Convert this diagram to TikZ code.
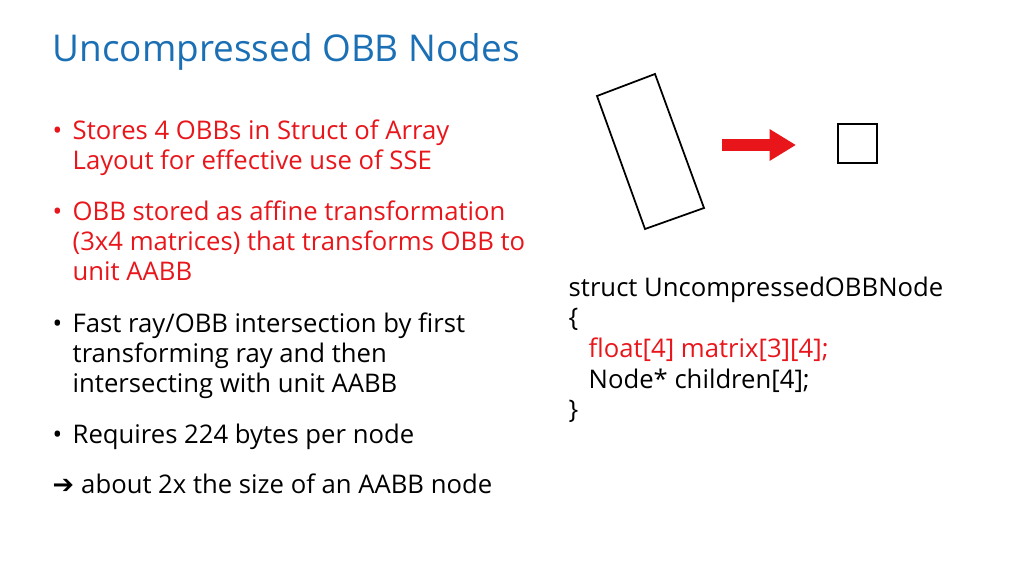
\documentclass[tikz,border=0pt]{standalone}
\usepackage{fontspec}
\setmainfont{Open Sans}
\newfontfamily\symfont{DejaVu Sans}
\usetikzlibrary{arrows.meta}
\definecolor{titleblue}{HTML}{1A6FB5}
\definecolor{slidered}{HTML}{E8161B}
\tikzset
{
    txt/.style  = {anchor=base west, inner sep=0pt, font=\fontsize{7.3pt}{8.5pt}\selectfont},
    hot/.style  = {txt, text=slidered},
    dot/.style  = {txt, anchor=base west},
    box/.style  = {draw=black, line width=0.5pt}
}
\begin{document}
\begin{tikzpicture}[x=0.01cm, y=-0.01cm]
    \useasboundingbox (0,0) rectangle (1024,576);
    \node [txt, text=titleblue, font=\fontsize{10.5pt}{12pt}\selectfont] (title) at (52,62) {Uncompressed OBB Nodes};
    % bullets
    \node [dot, text=slidered] (b1) at (52,140) {\textbullet};
    \node [hot] (l11) at (72,140) {Stores 4 OBBs in Struct of Array};
    \node [hot] (l12) at (72,170) {Layout for effective use of SSE};
    \node [dot, text=slidered] (b2) at (52,221) {\textbullet};
    \node [hot] (l21) at (72,221) {OBB stored as affine transformation};
    \node [hot] (l22) at (72,251) {(3x4 matrices) that transforms OBB to};
    \node [hot] (l23) at (72,281) {unit AABB};
    \node [dot] (b3) at (52,332) {\textbullet};
    \node [txt] (l31) at (72,332) {Fast ray/OBB intersection by first};
    \node [txt] (l32) at (72,362) {transforming ray and then};
    \node [txt] (l33) at (72,392) {intersecting with unit AABB};
    \node [dot] (b4) at (52,443) {\textbullet};
    \node [txt] (l41) at (72,443) {Requires 224 bytes per node};
    \node [txt] (l51) at (52,493) {{\symfont\bfseries ➔}\hspace{2pt}about 2x the size of an AABB node};
    % code
    \node [txt] (c1) at (568,297) {struct UncompressedOBBNode};
    \node [txt] (c2) at (568,327) {\{};
    \node [hot] (c3) at (588,357) {float[4] matrix[3][4];};
    \node [txt] (c4) at (588,388) {Node* children[4];};
    \node [txt] (c5) at (568,418) {\}};
    % boxes
    \draw [box] (597,96) -- (655,74) -- (704,208) -- (645,229) -- cycle;
    \draw [box] (838,124) rectangle (877,163);
    \coordinate (a1) at (722,145);
    \coordinate (a2) at (796,145);
    \draw [slidered, line width=3.6pt, -{Triangle[length=7.5pt, width=8.5pt]}] (a1) -- (a2);
\end{tikzpicture}
\end{document}
